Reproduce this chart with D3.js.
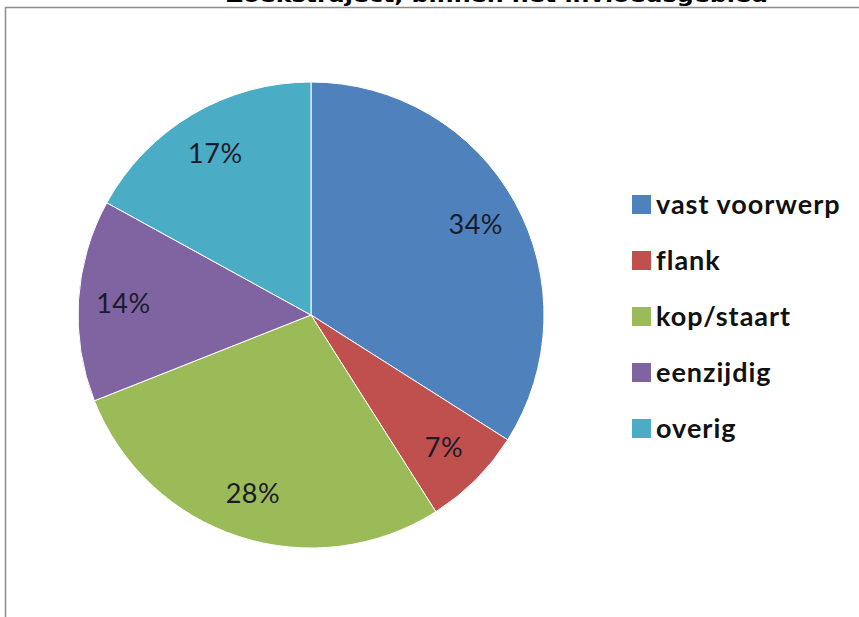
<!DOCTYPE html>
<html>
<head>
<meta charset="utf-8">
<script src="https://cdn.jsdelivr.net/npm/d3@7"></script>
<style>
  body { margin: 0; background: #fff; }
  svg { display: block; }
</style>
</head>
<body>
<svg width="859" height="617"></svg>
<script>
const categories = ["vast voorwerp", "flank", "kop/staart", "eenzijdig", "overig"];
const values = [34, 7, 28, 14, 17];
const colors = ["#4F81BD", "#C0504D", "#9BBB59", "#8064A2", "#4BACC6"];
const title = "Zoekstraject, binnen het invloedsgebied";

const svg = d3.select("svg");
const cx = 311, cy = 315, radius = 233;

// chart frame (right and bottom edges fall outside the picture)
svg.append("rect")
  .attr("x", 5.5).attr("y", 7.5)
  .attr("width", 900).attr("height", 700)
  .attr("fill", "none")
  .attr("stroke", "#8c8c8c")
  .attr("stroke-width", 1.5);

// title, mostly cut off at the top
svg.append("text")
  .attr("x", 497).attr("y", 2)
  .attr("text-anchor", "middle")
  .attr("font-family", "DejaVu Sans")
  .attr("font-weight", "bold")
  .attr("font-size", 19)
  .attr("textLength", 542)
  .attr("lengthAdjust", "spacingAndGlyphs")
  .attr("fill", "#000")
  .text(title);

const data = categories.map((c, i) => ({ name: c, value: values[i], color: colors[i] }));
const pie = d3.pie().value(d => d.value).sort(null);
const arc = d3.arc().innerRadius(0).outerRadius(radius);
const labelArc = d3.arc().innerRadius(188).outerRadius(188);

const g = svg.append("g").attr("transform", `translate(${cx},${cy})`);
const arcs = pie(data);

g.selectAll("path")
  .data(arcs).enter()
  .append("path")
  .attr("d", arc)
  .attr("fill", d => d.data.color)
  .attr("stroke", "#fff")
  .attr("stroke-width", 1);

g.selectAll("text")
  .data(arcs).enter()
  .append("text")
  .attr("transform", d => `translate(${labelArc.centroid(d)})`)
  .attr("text-anchor", "middle")
  .attr("dy", "0.35em")
  .attr("font-family", "Lato, 'Open Sans', sans-serif")
  .attr("font-size", 27)
  .attr("letter-spacing", 0.5)
  .attr("fill", "#1a1a2a")
  .text(d => d.data.value + "%");

// legend
const legendY = d3.scalePoint().domain(categories).range([205, 429]);
const legend = svg.append("g")
  .selectAll("g")
  .data(data).enter()
  .append("g")
  .attr("transform", d => `translate(632,${legendY(d.name)})`);

legend.append("rect")
  .attr("x", 0).attr("y", -10)
  .attr("width", 19).attr("height", 19)
  .attr("fill", d => d.color);

legend.append("text")
  .attr("x", 24).attr("dy", "0.35em")
  .attr("font-family", "Lato, 'Open Sans', sans-serif")
  .attr("font-weight", "bold")
  .attr("font-size", 27)
  .attr("letter-spacing", 1)
  .attr("fill", "#111")
  .text(d => d.name);
</script>
</body>
</html>
